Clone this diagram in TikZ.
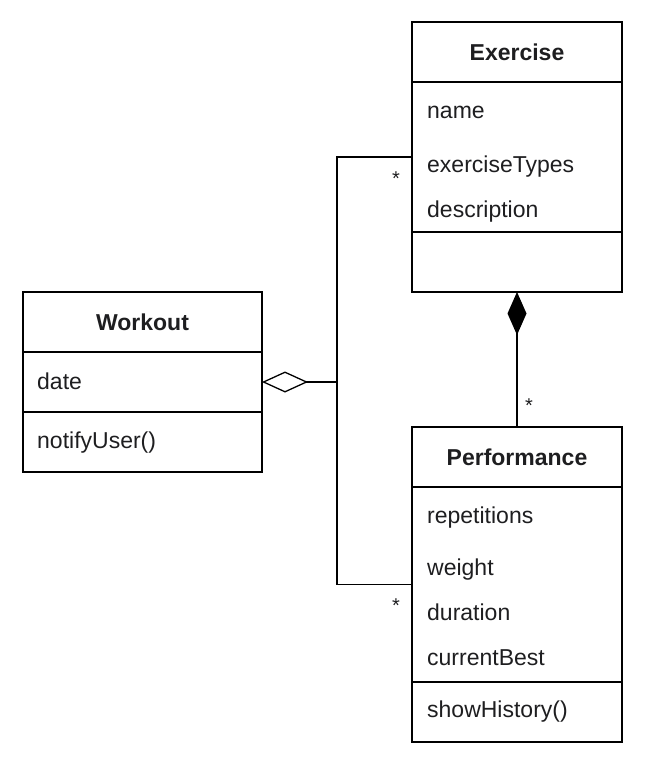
\documentclass[tikz,border=0pt]{standalone}
\usepackage{fontspec}
\setmainfont{Liberation Sans}
\usetikzlibrary{arrows.meta,positioning}
\definecolor{umlink}{RGB}{30, 30, 32}
\tikzset{
 classhead/.style={
 rectangle,
 draw=black,
 line width=1.3pt,
 outer sep=0pt,
 minimum height=60pt,
 font=\fontsize{23}{27}\selectfont\bfseries,
 text=umlink
 },
 classpart/.style={
 rectangle,
 draw=black,
 line width=1.3pt,
 outer sep=0pt
 },
 member/.style={
 anchor=base west,
 inner sep=0pt,
 font=\fontsize{23}{27}\selectfont,
 text=umlink
 },
 mult/.style={
 inner sep=0pt,
 font=\fontsize{20}{22}\selectfont,
 text=umlink
 },
 aggrline/.style={{Diamond[open, length=46pt, width=21pt]}-, line width=1.3pt},
 compline/.style={{Diamond[length=43pt, width=19pt]}-, line width=1.3pt},
 assocline/.style={line width=1.3pt}
}
\begin{document}
\begin{tikzpicture}[x=1pt, y=-1pt]
 \useasboundingbox (0,0) rectangle (645,765);

 % Exercise class
 \node[classhead, minimum width=210pt] (exhead) at (517,52) {Exercise};
 \node[classpart, minimum width=210pt, minimum height=150pt, below=0pt of exhead] (exattr) {};
 \node[classpart, minimum width=210pt, minimum height=60pt, below=0pt of exattr] (exmeth) {};
 \node[member] (exname) at (427,119) {name};
 \node[member] (extypes) at (427,172) {exerciseTypes};
 \node[member] (exdesc) at (427,217) {description};

 % Workout class
 \node[classhead, minimum width=239pt] (wkhead) at (142.5,322) {Workout};
 \node[classpart, minimum width=239pt, minimum height=60pt, below=0pt of wkhead] (wkattr) {};
 \node[classpart, minimum width=239pt, minimum height=60pt, below=0pt of wkattr] (wkmeth) {};
 \node[member] (wkdate) at (37,389) {date};
 \node[member] (wknotify) at (37,448) {notifyUser()};

 % Performance class
 \node[classhead, minimum width=210pt] (pfhead) at (517,457) {Performance};
 \node[classpart, minimum width=210pt, minimum height=195pt, below=0pt of pfhead] (pfattr) {};
 \node[classpart, minimum width=210pt, minimum height=60pt, below=0pt of pfattr] (pfmeth) {};
 \node[member] (pfreps) at (427,523) {repetitions};
 \node[member] (pfweight) at (427,575) {weight};
 \node[member] (pfdur) at (427,620) {duration};
 \node[member] (pfbest) at (427,665) {currentBest};
 \node[member] (pfhist) at (427,717) {showHistory()};

 % associations
 \coordinate (junction) at (337,382);
 \draw[aggrline] (wkattr.east) -- (junction);
 \draw[assocline] (junction) |- (exattr.west);
 \draw[assocline] (junction) |- (pfattr.west);
 \draw[compline] (exmeth.south) -- (pfhead.north);

 \node[mult] (multex) at (396,179) {*};
 \node[mult] (multpf) at (396,606) {*};
 \node[mult] (multcomp) at (529,406) {*};
\end{tikzpicture}
\end{document}
